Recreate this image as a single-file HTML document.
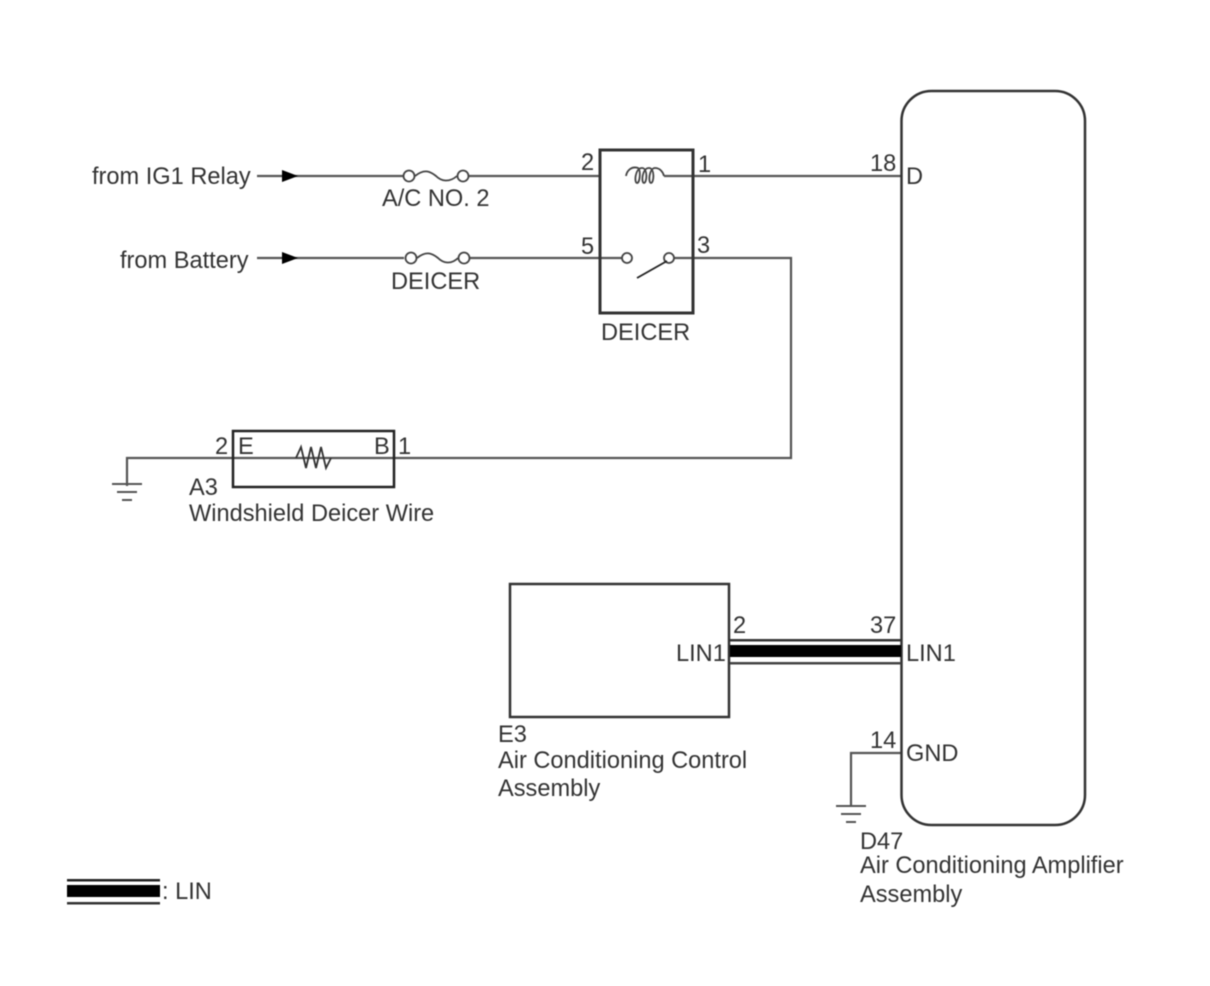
<!DOCTYPE html>
<html><head><meta charset="utf-8"><style>
html,body{margin:0;padding:0;background:#fff}
svg{display:block;filter:blur(0.5px)}
text{font-family:"Liberation Sans",sans-serif;font-size:23.6px;fill:#333}
</style></head><body>
<svg width="1210" height="986" viewBox="0 0 1210 986" xmlns="http://www.w3.org/2000/svg">
<rect width="1210" height="986" fill="#fff"/>
<g fill="none" stroke="#555" stroke-width="2.2">
<path d="M257 176H403M469 176H600M664 176H901"/>
<path d="M257 258H404M470 258H622M674 258H791V458H394"/>
<path d="M127 486V458H394"/>
<path d="M901 753H851V806"/>
<path d="M112 484H142M117 492H137M122 500H132" stroke-width="2"/>
<path d="M836 806H866M841 814H861M846 822H856" stroke-width="2"/>
</g>
<g fill="#fff" stroke="#333" stroke-width="2">
<rect x="233" y="431" width="161" height="56" fill="none" stroke="#222" stroke-width="2.5"/>
<rect x="600" y="150" width="93" height="163" fill="none" stroke="#333" stroke-width="3"/>
<rect x="510" y="584" width="219" height="133" fill="none" stroke="#333" stroke-width="2.5"/>
<rect x="901.500" y="91" width="183.500" height="734" rx="30" fill="none" stroke="#333" stroke-width="2.5"/>
</g>
<g fill="#000">
<path d="M282 170L298 176L282 182Z"/>
<path d="M282 252L298 258L282 264Z"/>
</g>
<g fill="#fff" stroke="#444" stroke-width="1.800">
<circle cx="409" cy="176" r="5.500"/><circle cx="463" cy="176" r="5.500"/>
<circle cx="411" cy="258" r="5.500"/><circle cx="464" cy="258" r="5.500"/>
<circle cx="627" cy="258" r="5"/><circle cx="669" cy="258" r="5"/>
</g>
<g fill="none" stroke="#444" stroke-width="1.800">
<path d="M415 176C425 168 431 172 436 176C441 181 449 183 457 176"/>
<path d="M417 258C427 250 433 254 438 258C443 263 451 265 458 258"/>
<path d="M637 278L667 261" stroke="#222"/>
<path d="M626 176C627 170 632 166 638 168C641 170 640 183 637 183C634 183 635 168 642 168C648 168 647 183 644 183C641 183 642 168 649 168C655 168 654 183 651 183C648 183 649 168 655 168C660 168 663 172 664 176"/>
<path d="M296 458L301 447L306 468L311 447L316 468L321 447L326 468L331 458" stroke="#333"/>
</g>
<rect x="730" y="639" width="171" height="2.500" fill="#333"/>
<rect x="730" y="645" width="171" height="12" fill="#000"/>
<rect x="730" y="662" width="171" height="2.500" fill="#444"/>
<rect x="67" y="879" width="93" height="2.500" fill="#222"/>
<rect x="67" y="885" width="93" height="12" fill="#000"/>
<rect x="67" y="902" width="93" height="2.500" fill="#333"/>
<text x="92" y="184">from IG1 Relay</text>
<text x="120" y="268">from Battery</text>
<text x="382" y="206">A/C NO. 2</text>
<text x="391" y="289">DEICER</text>
<text x="601" y="340">DEICER</text>
<text x="581" y="170">2</text>
<text x="698" y="172">1</text>
<text x="581" y="254">5</text>
<text x="697" y="253">3</text>
<text x="870" y="171">18</text>
<text x="906" y="184">D</text>
<text x="215" y="454">2</text>
<text x="238" y="454">E</text>
<text x="374" y="454">B</text>
<text x="398" y="454">1</text>
<text x="189" y="495">A3</text>
<text x="189" y="521">Windshield Deicer Wire</text>
<text x="733" y="633">2</text>
<text x="870" y="633">37</text>
<text x="676" y="661">LIN1</text>
<text x="906" y="661">LIN1</text>
<text x="870" y="748">14</text>
<text x="906" y="761">GND</text>
<text x="498" y="742">E3</text>
<text x="498" y="768">Air Conditioning Control</text>
<text x="498" y="796">Assembly</text>
<text x="860" y="849">D47</text>
<text x="860" y="873">Air Conditioning Amplifier</text>
<text x="860" y="902">Assembly</text>
<text x="162" y="899">: LIN</text>
</svg>
</body></html>
